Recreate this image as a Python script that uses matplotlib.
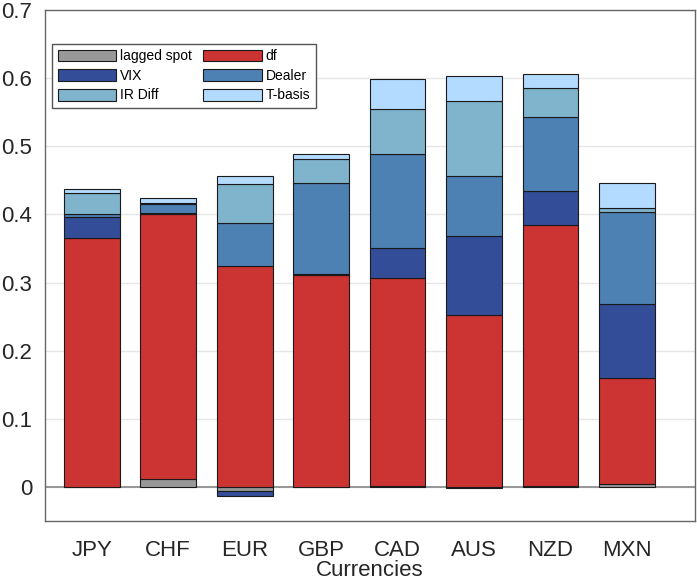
import numpy as np
import matplotlib.pyplot as plt

plt.rcParams['font.family'] = ['Liberation Sans', 'DejaVu Sans']

currencies = ['JPY', 'CHF', 'EUR', 'GBP', 'CAD', 'AUS', 'NZD', 'MXN']
names = ['lagged spot', 'df', 'VIX', 'Dealer', 'IR Diff', 'T-basis']
lagged_spot = [0.000, 0.012, -0.006, 0.000, 0.001, -0.002, 0.002, 0.004]
df = [0.366, 0.389, 0.325, 0.311, 0.305, 0.253, 0.383, 0.156]
vix = [0.030, 0.001, -0.008, 0.002, 0.044, 0.116, 0.050, 0.109]
dealer = [0.004, 0.013, 0.063, 0.133, 0.139, 0.088, 0.108, 0.134]
ir_diff = [0.032, 0.001, 0.056, 0.036, 0.066, 0.110, 0.043, 0.007]
t_basis = [0.005, 0.008, 0.013, 0.006, 0.044, 0.036, 0.020, 0.036]

series = [lagged_spot, df, vix, dealer, ir_diff, t_basis]
colors = ['#999999', '#cc3333', '#334d99', '#4d80b3', '#80b3cc', '#b3daff']

fig = plt.figure(figsize=(6.97, 5.8), dpi=100)
ax = fig.add_axes([45/697, 59/580, 650/697, 511/580])

x = np.arange(len(currencies))
pos_bottom = np.zeros(len(x))
neg_bottom = np.zeros(len(x))
handles = []
for vals, name, c in zip(series, names, colors):
    v = np.array(vals)
    bottom = np.where(v >= 0, pos_bottom, neg_bottom)
    h = ax.bar(x, v, width=0.73, bottom=bottom, color=c, edgecolor='#1a1a1a',
               linewidth=0.8, label=name, zorder=3)
    handles.append(h)
    pos_bottom = pos_bottom + np.where(v >= 0, v, 0)
    neg_bottom = neg_bottom + np.where(v < 0, v, 0)

ax.axhline(0, color='#888888', linewidth=1.2, zorder=2)
ax.set_xlim(-0.61, 7.89)
ax.set_ylim(-0.05, 0.7)
ax.set_yticks(np.arange(0, 0.71, 0.1))
ax.set_yticklabels(['0', '0.1', '0.2', '0.3', '0.4', '0.5', '0.6', '0.7'])
ax.set_xticks(x)
ax.set_xticklabels(currencies)
ax.tick_params(axis='both', length=0, labelsize=16, colors='#262626')
ax.tick_params(axis='x', pad=14)
ax.tick_params(axis='y', pad=9)
ax.yaxis.grid(True, color='#e6e6e6', linewidth=1, zorder=0)
ax.set_axisbelow(True)
for s in ax.spines.values():
    s.set_color('#666666')
    s.set_linewidth(1)
ax.set_xlabel('Currencies', fontsize=16, color='#262626', labelpad=-1)

order = [0, 2, 4, 1, 3, 5]
leg = ax.legend([handles[i] for i in order], [names[i] for i in order], ncol=2,
                loc='upper left', bbox_to_anchor=(0.011, 0.934), borderaxespad=0,
                fontsize=10, handlelength=4.2, handleheight=0.95, handletextpad=0.3,
                columnspacing=0.8, labelspacing=0.4, borderpad=0.4,
                fancybox=False, framealpha=1, edgecolor='#555555')
leg.get_frame().set_linewidth(1)

fig.savefig('out.png', dpi=100)
